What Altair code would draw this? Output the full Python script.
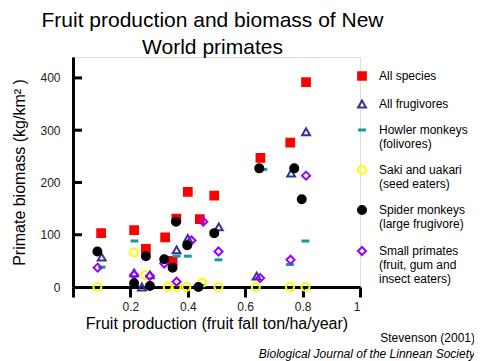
import altair as alt
import pandas as pd

# ---- data ----
series_names = [
    "All species",
    "All frugivores",
    "Howler monkeys|(folivores)",
    "Saki and uakari|(seed eaters)",
    "Spider monkeys|(large frugivore)",
    "Small primates|(fruit, gum and|insect eaters)",
]

all_species_x = [0.098, 0.213, 0.254, 0.321, 0.347, 0.36, 0.40, 0.442, 0.492, 0.653, 0.757, 0.812]
all_species_y = [103, 109, 73, 95, 50, 131, 182, 130, 175, 247, 276, 392]

frugivores_x = [0.10, 0.213, 0.24, 0.268, 0.361, 0.40, 0.508, 0.64, 0.76, 0.812]
frugivores_y = [57, 27, 0, 23, 71, 93, 115, 21, 218, 297]

howler_x = [0.10, 0.214, 0.361, 0.40, 0.448, 0.507, 0.663, 0.756, 0.81]
howler_y = [38, 88, 59, 59, 3, 52, 225, 43, 88]

saki_x = [0.085, 0.213, 0.252, 0.33, 0.361, 0.395, 0.45, 0.507, 0.637, 0.756, 0.81]
saki_y = [0, 66, 23, 0, 0, 0, 8, 0, 0, 0, 0]

spider_x = [0.085, 0.213, 0.254, 0.268, 0.318, 0.347, 0.359, 0.398, 0.437, 0.492, 0.649, 0.771, 0.797]
spider_y = [68, 7, 59, 2, 53, 37, 125, 80, 0, 103, 227, 227, 168]

small_x = [0.086, 0.213, 0.268, 0.318, 0.361, 0.413, 0.454, 0.507, 0.652, 0.758, 0.812]
small_y = [37, 23, 21, 45, 10, 89, 125, 68, 17, 52, 213]

x_ticks = [0, 0.2, 0.4, 0.6, 0.8, 1]
y_ticks = [0, 100, 200, 300, 400]
y_inner_ticks = [100, 200, 300, 400]

title_lines = ["Fruit production and biomass of New", "World primates"]
x_title = "Fruit production (fruit fall ton/ha/year)"
y_title = "Primate biomass (kg/km² )"
source_lines = ["Stevenson (2001)", "Biological Journal of the Linnean Society"]

# ---- build table ----
groups = [
    (all_species_x, all_species_y),
    (frugivores_x, frugivores_y),
    (howler_x, howler_y),
    (saki_x, saki_y),
    (spider_x, spider_y),
    (small_x, small_y),
]
rows = []
for name, (xs, ys) in zip(series_names, groups):
    for xv, yv in zip(xs, ys):
        rows.append({"series": name, "x": xv, "y": yv})
df = pd.DataFrame(rows)

FONT = "Liberation Sans"
dash_path = "M-1,-0.38L1,-0.38L1,0.38L-1,0.38Z"

shapes = ["square", "triangle-up", dash_path, "circle", "circle", "diamond"]
strokes = ["#ff0000", "#333399", "transparent", "#ffff00", "#000000", "#9900ff"]
fills = ["#ff0000", "transparent", "#159a9a", "transparent", "#000000", "transparent"]
sizes = [60, 65, 90, 60, 45, 110]

legend = alt.Legend(
    title=None,
    orient="none",
    legendX=283,
    legendY=13,
    padding=0,
    labelFont=FONT,
    labelFontSize=12,
    labelColor="#000000",
    labelOffset=11,
    labelLimit=200,
    labelExpr="split(datum.label, '|')",
    rowPadding=12,
    symbolStrokeWidth=2,
    symbolOpacity=1,
)

domain_y = [0, 440]

points = alt.Chart(df).mark_point(strokeWidth=2, opacity=1).encode(
    x=alt.X(
        "x:Q",
        scale=alt.Scale(domain=[0, 1], nice=False),
        axis=alt.Axis(
            values=x_ticks,
            labelExpr="datum.value == 0 ? '' : format(datum.value, '~g')",
            title=x_title,
            titleFont=FONT,
            titleFontSize=16,
            titleFontWeight="normal",
            titleColor="#000000",
            titlePadding=3,
            labelFont=FONT,
            labelFontSize=12,
            labelColor="#222222",
            labelPadding=4,
            domainColor="#000000",
            domainWidth=3,
            tickColor="#000000",
            tickWidth=3,
            tickSize=10,
            grid=False,
        ),
    ),
    y=alt.Y(
        "y:Q",
        scale=alt.Scale(domain=domain_y, nice=False),
        axis=alt.Axis(
            values=y_ticks,
            title=y_title,
            titleFont=FONT,
            titleFontSize=16,
            titleFontWeight="normal",
            titleColor="#000000",
            titlePadding=12,
            labelFont=FONT,
            labelFontSize=12,
            labelColor="#222222",
            labelPadding=13,
            ticks=False,
            domainColor="#000000",
            domainWidth=3,
            grid=False,
        ),
    ),
    shape=alt.Shape("series:N", scale=alt.Scale(domain=series_names, range=shapes), legend=legend),
    stroke=alt.Stroke("series:N", scale=alt.Scale(domain=series_names, range=strokes), legend=legend),
    fill=alt.Fill("series:N", scale=alt.Scale(domain=series_names, range=fills), legend=legend),
    size=alt.Size("series:N", scale=alt.Scale(domain=series_names, range=sizes), legend=legend),
    order=alt.Order("series:N"),
)

ticks_df = pd.DataFrame({"y": y_inner_ticks})
inner_ticks = alt.Chart(ticks_df).mark_rule(color="#000000", strokeWidth=3).encode(
    y=alt.Y("y:Q", scale=alt.Scale(domain=domain_y, nice=False)),
    x=alt.value(0),
    x2=alt.value(9),
)

src_df = pd.DataFrame({"t": source_lines})
source1 = alt.Chart(src_df.iloc[[0]]).mark_text(
    align="right", baseline="middle", font=FONT, fontSize=12, color="#000000"
).encode(text="t:N", x=alt.value(402), y=alt.value(281))
source2 = alt.Chart(src_df.iloc[[1]]).mark_text(
    align="right", baseline="middle", font=FONT, fontSize=12, fontStyle="italic", color="#000000"
).encode(text="t:N", x=alt.value(402), y=alt.value(297))

chart = alt.layer(points, inner_ticks, source1, source2).properties(
    width=287,
    height=230,
    padding={"left": 65, "top": 49, "right": 114, "bottom": 74},
    autosize=alt.AutoSizeParams(type="none"),
    title=alt.TitleParams(
        title_lines,
        font=FONT,
        fontSize=21,
        fontWeight="normal",
        color="#000000",
        anchor="middle",
        frame="group",
        lineHeight=27,
        offset=-1,
        dx=-4,
    ),
).configure_view(stroke=None).configure(background="white")

chart.save("out.html", embed_options={"renderer": "svg", "actions": False})
